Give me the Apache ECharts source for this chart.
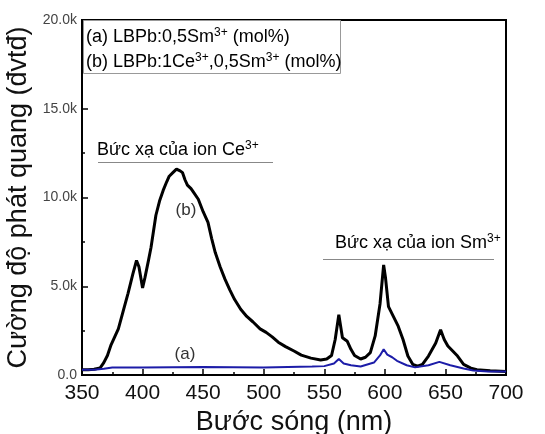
<html>
<head>
    <meta charset="utf-8">
    <title>Phổ phát quang</title>
    <script src="https://cdn.jsdelivr.net/npm/echarts@6/dist/echarts.min.js"></script>
    <style type="text/css">
        body{ margin:0; background:#fff; }
        #chart{ width:545px; height:434px; }
    </style>
</head>
<body>
    <div id="chart"></div>
    <script type="text/javascript">
        // mẫu (b) LBPb:1Ce,0,5Sm
        var waveB = [350,355,360,365,368,371,374,377,380,384,388,392,395,397,400,402,405,407,409,411,414,417,420,422,425,428,431,433,435,437,440,442,446,450,454,457,460,464,468,472,476,481,486,491,497,502,507,512,518,525,531,539,547,552,556,559,562,565,569,572,575,580,584,588,592,596,599,600.5,603,607,611,615,619,623,627,631,636,642,646,649,652,656,660,665,671,676,687,700];
        var intensB = [300,300,320,400,700,1100,1700,2150,2600,3600,4600,5700,6450,6100,4900,5500,6500,7200,8100,9000,9800,10400,10900,11200,11400,11600,11500,11400,11000,10700,10500,10300,9900,9200,8600,7700,6900,6100,5400,4800,4250,3700,3300,3000,2600,2400,2150,1850,1600,1350,1120,950,850,900,1100,2000,3400,2100,1900,1450,1100,900,1000,1260,2200,4000,6200,5500,3850,3300,2750,2000,1070,600,500,600,1070,1800,2550,2000,1630,1350,1070,600,390,300,240,200];
        // mẫu (a) LBPb:0,5Sm
        var waveA = [350,360,368,375,400,450,500,540,550,558,562,566,572,580,591,596,599,602,606,610,618,625,636,645,654,665,673,685,700];
        var intensA = [300,300,350,420,420,450,420,480,500,650,900,650,550,480,700,1100,1450,1150,1000,800,550,430,550,740,550,370,250,200,200];

        function pairs(xs, ys){
            var out = [];
            for(var i=0;i<xs.length;i++){ out.push([xs[i], ys[i]]); }
            return out;
        }

        var font = 'Liberation Sans, Arial, sans-serif';
        var supRich = {
            n:{ fontSize:18, fontFamily:font, color:'#111', lineHeight:20 },
            s:{ fontSize:12, fontFamily:font, color:'#111', verticalAlign:'top', lineHeight:20, padding:[0,0,7,0] }
        };

        var myChart = echarts.init(document.getElementById('chart'));
        var option = {
            animation:false,
            grid:{ left:82, right:39, top:20, bottom:59, outerBoundsMode:'none', show:true, borderColor:'#000', borderWidth:2 },
            xAxis:{
                type:'value', min:350, max:700, interval:50,
                name:'Bước sóng (nm)', nameLocation:'middle', nameGap:30,
                nameTextStyle:{ fontSize:27, fontFamily:font, color:'#111' },
                axisLine:{ lineStyle:{ color:'#000', width:2 } },
                axisTick:{ inside:true, length:6, lineStyle:{ color:'#000', width:1.5 } },
                minorTick:{ show:true, splitNumber:2, length:3, lineStyle:{ color:'#000', width:1.5 } },
                axisLabel:{ fontSize:21, fontFamily:font, color:'#111', margin:8 },
                splitLine:{ show:false }
            },
            yAxis:{
                type:'value', min:0, max:20000, interval:5000,
                name:'Cường độ phát quang (đvtđ)', nameLocation:'middle', nameGap:40,
                nameTextStyle:{ fontSize:27, fontFamily:font, color:'#111' },
                axisLine:{ show:true, lineStyle:{ color:'#000', width:2 } },
                axisTick:{ show:true, inside:true, length:6, lineStyle:{ color:'#000', width:1.5 } },
                minorTick:{ show:true, splitNumber:2, length:3, lineStyle:{ color:'#000', width:1.5 } },
                axisLabel:{
                    fontSize:14, fontFamily:font, color:'#444', margin:5,
                    formatter:function(v){ return v===0 ? '0.0' : (v/1000).toFixed(1)+'k'; }
                },
                splitLine:{ show:false }
            },
            series:[
                {
                    name:'(a)', type:'line', showSymbol:false, z:3,
                    lineStyle:{ color:'#1c1ca8', width:2 },
                    data:pairs(waveA, intensA)
                },
                {
                    name:'(b)', type:'line', showSymbol:false, z:2,
                    lineStyle:{ color:'#000', width:3 },
                    data:pairs(waveB, intensB)
                }
            ],
            graphic:[
                // khung chú thích
                { type:'rect', shape:{ x:83.5, y:20.5, width:257, height:53 }, style:{ fill:'#fff', stroke:'#999', lineWidth:1 }, z:10 },
                { type:'text', x:86, y:27, z:11, style:{ text:'{n|(a) LBPb:0,5Sm}{s|3+}{n| (mol%)}', rich:supRich } },
                { type:'text', x:86, y:52, z:11, style:{ text:'{n|(b) LBPb:1Ce}{s|3+}{n|,0,5Sm}{s|3+}{n| (mol%)}', rich:supRich } },
                // Ce
                { type:'text', x:97, y:140, style:{ text:'{n|Bức xạ của ion Ce}{s|3+}', rich:supRich } },
                { type:'line', shape:{ x1:98, y1:162.5, x2:273, y2:162.5 }, style:{ stroke:'#888', lineWidth:1 } },
                // Sm
                { type:'text', x:335, y:233, style:{ text:'{n|Bức xạ của ion Sm}{s|3+}', rich:supRich } },
                { type:'line', shape:{ x1:323, y1:259.5, x2:494, y2:259.5 }, style:{ stroke:'#888', lineWidth:1 } },
                { type:'text', x:186, y:210, style:{ text:'(b)', fontSize:17, fontFamily:font, fill:'#333', align:'center', verticalAlign:'middle' } },
                { type:'text', x:185, y:354, style:{ text:'(a)', fontSize:17, fontFamily:font, fill:'#333', align:'center', verticalAlign:'middle' } }
            ]
        };
        myChart.setOption(option);
    </script>
</body>
</html>
